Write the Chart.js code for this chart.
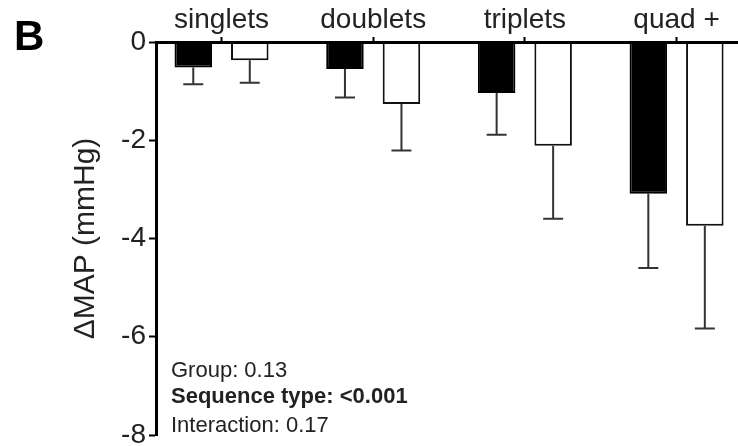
<!DOCTYPE html>
<html>
<head>
<meta charset="utf-8">
<script src="https://cdn.jsdelivr.net/npm/chart.js@4/dist/chart.umd.min.js"></script>
<style>
  html, body { margin: 0; padding: 0; background: #fff; }
  canvas { display: block; }
</style>
</head>
<body>
<canvas id="chart" width="738" height="446"></canvas>
<script>
// Sequence categories along the top axis
const categories = ['singlets', 'doublets', 'triplets', 'quad +'];

// Change in mean arterial pressure (mmHg), mean and SEM per group
const filledMeans  = [-0.52, -0.55, -1.04, -3.09];
const filledErrors = [0.34, 0.58, 0.85, 1.51];
const openMeans    = [-0.37, -1.26, -2.11, -3.74];
const openErrors   = [0.46, 0.95, 1.49, 2.09];

// Value-axis tick labels
const yTicks = [0, -2, -4, -6, -8];

// Two-way ANOVA results shown in the plot corner
const statLines = ['Group: 0.13', 'Sequence type: <0.001', 'Interaction: 0.17'];
const statBold  = [false, true, false];

const FONT = "'Liberation Sans', Arial, sans-serif";
const TEXT = '#222';

// One-sided error bars that extend away from zero
const errorBars = {
  id: 'errorBars',
  afterDatasetsDraw(chart) {
    const ctx = chart.ctx;
    const yScale = chart.scales.y;
    chart.data.datasets.forEach((ds, di) => {
      const meta = chart.getDatasetMeta(di);
      meta.data.forEach((bar, i) => {
        const v = ds.data[i].y;
        const yEnd = yScale.getPixelForValue(v - ds.errors[i]);
        ctx.save();
        ctx.strokeStyle = '#333';
        ctx.lineWidth = 2;
        ctx.beginPath();
        ctx.moveTo(bar.x, bar.y);
        ctx.lineTo(bar.x, yEnd);
        ctx.moveTo(bar.x - 10, yEnd);
        ctx.lineTo(bar.x + 10, yEnd);
        ctx.stroke();
        ctx.restore();
      });
    });
  }
};

// Panel letter and statistics text
const annotations = {
  id: 'annotations',
  afterDraw(chart) {
    const ctx = chart.ctx;
    const area = chart.chartArea;
    ctx.save();
    ctx.fillStyle = '#000';
    ctx.textAlign = 'left';
    ctx.textBaseline = 'alphabetic';
    ctx.font = `bold 42px ${FONT}`;
    ctx.fillText('B', 14, 50);

    ctx.fillStyle = TEXT;
    const baselines = [area.bottom - 58, area.bottom - 32, area.bottom - 3];
    statLines.forEach((t, i) => {
      ctx.font = `${statBold[i] ? 'bold ' : ''}22px ${FONT}`;
      ctx.fillText(t, area.left + 15, baselines[i]);
    });
    ctx.restore();
  }
};

function zeroPadding(s) {
  s.paddingLeft = 0; s.paddingRight = 0; s.paddingTop = 0; s.paddingBottom = 0;
}

new Chart(document.getElementById('chart'), {
  type: 'bar',
  data: {
    datasets: [
      {
        label: 'Filled',
        data: categories.map((c, i) => ({ x: i, y: filledMeans[i] })),
        errors: filledErrors,
        backgroundColor: '#000',
        borderColor: '#000',
        borderWidth: 2
      },
      {
        label: 'Open',
        data: categories.map((c, i) => ({ x: i, y: openMeans[i] })),
        errors: openErrors,
        backgroundColor: '#fff',
        borderColor: '#111',
        borderWidth: 2
      }
    ]
  },
  options: {
    responsive: false,
    animation: false,
    categoryPercentage: 0.745,
    barPercentage: 0.664,
    layout: { padding: { left: 0, right: 0, top: 0, bottom: 11 } },
    plugins: {
      legend: { display: false },
      tooltip: { enabled: false }
    },
    scales: {
      x: {
        type: 'linear',
        position: 'top',
        min: -0.432,
        max: 3.405,
        offset: false,
        afterBuildTicks: s => { s.ticks = categories.map((c, i) => ({ value: i })); },
        afterFit: s => { s.height = 42; zeroPadding(s); },
        grid: {
          offset: false,
          drawOnChartArea: false,
          drawTicks: true,
          tickLength: 5,
          tickWidth: 2,
          tickColor: '#000'
        },
        border: { display: true, color: '#000', width: 3, z: 1 },
        ticks: {
          padding: 0,
          autoSkip: false,
          maxRotation: 0,
          color: TEXT,
          font: { family: FONT, size: 28 },
          callback: v => categories[v] ?? ''
        }
      },
      y: {
        position: 'left',
        min: -8,
        max: 0,
        afterBuildTicks: s => { s.ticks = yTicks.map(v => ({ value: v })); },
        afterFit: s => { s.width = 156; zeroPadding(s); },
        grid: {
          drawOnChartArea: false,
          drawTicks: true,
          tickLength: 7,
          tickWidth: 2,
          tickColor: '#000'
        },
        border: { display: true, color: '#000', width: 3, z: 1 },
        ticks: {
          padding: 3,
          color: TEXT,
          font: { family: FONT, size: 28 },
          callback: v => String(v)
        },
        title: {
          display: true,
          text: 'ΔMAP (mmHg)',
          color: TEXT,
          font: { family: FONT, size: 30 },
          padding: { top: 68, bottom: 0 }
        }
      }
    }
  },
  plugins: [errorBars, annotations]
});
</script>
</body>
</html>
